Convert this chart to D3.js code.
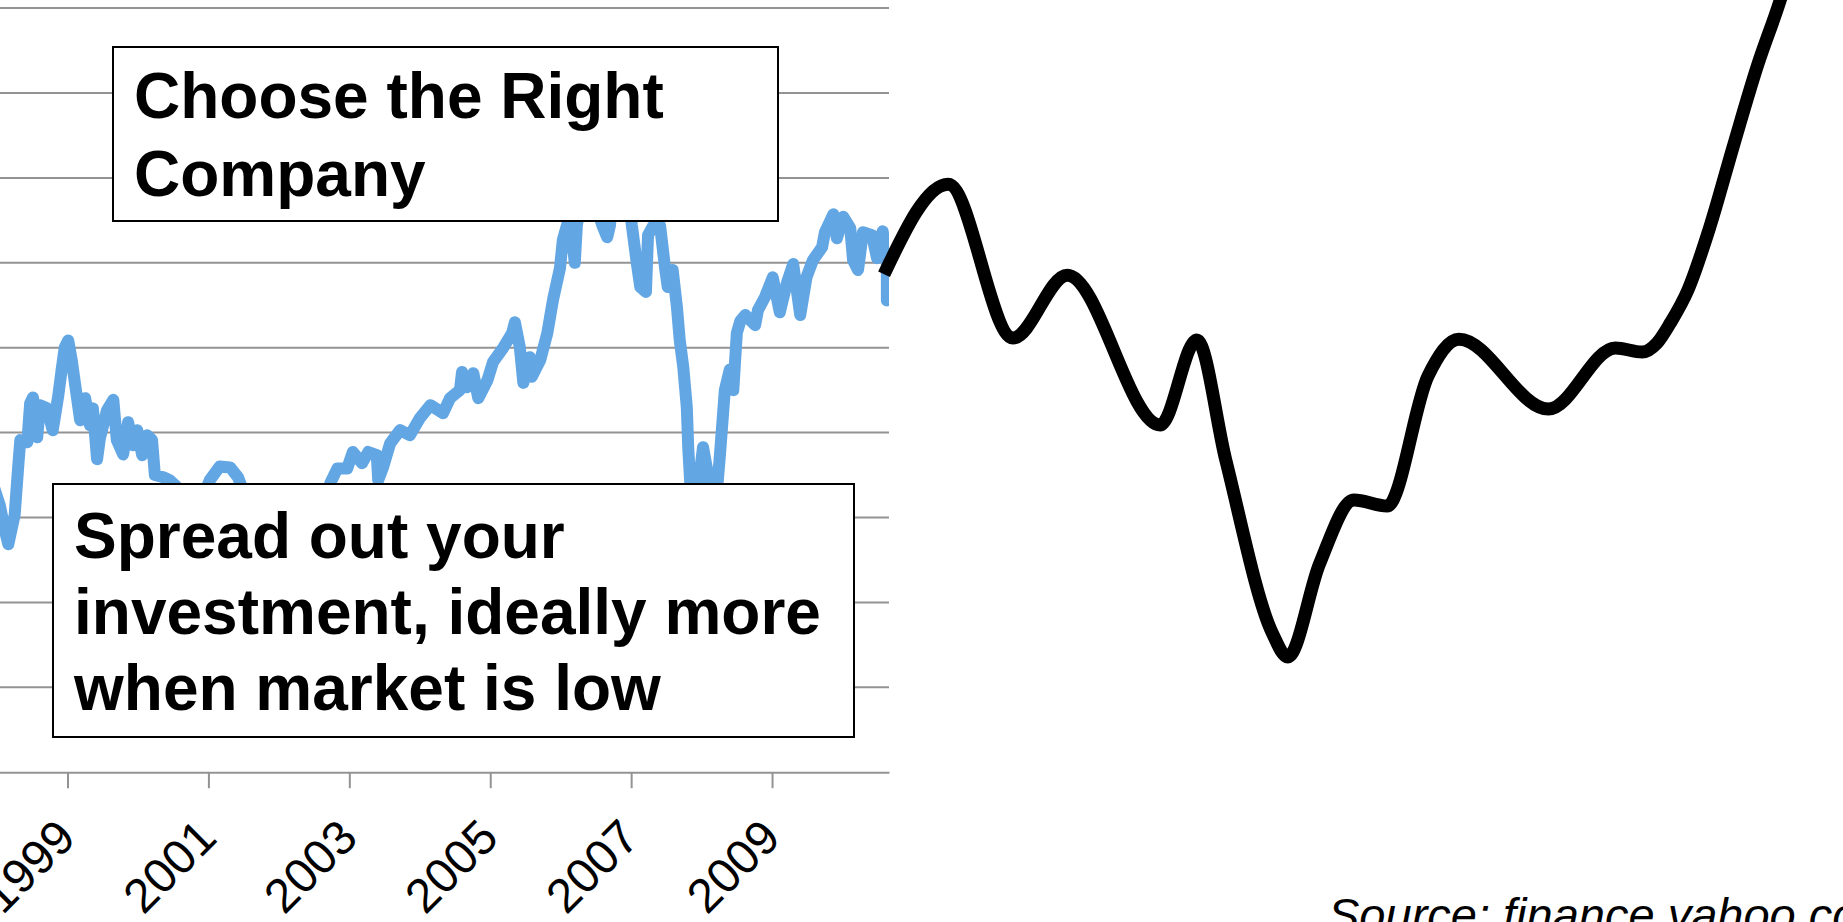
<!DOCTYPE html>
<html>
<head>
<meta charset="utf-8">
<script src="https://cdn.jsdelivr.net/npm/d3@7"></script>
<style>
  body { margin: 0; background: #fff; }
  svg { display: block; }
</style>
</head>
<body>
<script>
// price history, [decimal year, index value]
var priceSeries = [
  [1997.95, 11800], [1998.04, 11000], [1998.11, 9980], [1998.16, 9400], [1998.25, 10600],
  [1998.30, 12580], [1998.33, 13690], [1998.43, 13600], [1998.47, 15210], [1998.51, 15450],
  [1998.57, 13810], [1998.61, 15130], [1998.71, 15000], [1998.79, 14100], [1998.87, 15540],
  [1998.92, 16660], [1998.96, 17500], [1999.01, 17800], [1999.06, 16990], [1999.11, 15950],
  [1999.18, 14510], [1999.25, 15420], [1999.32, 14300], [1999.36, 15000], [1999.42, 12900],
  [1999.46, 13770], [1999.56, 14920], [1999.65, 15350], [1999.70, 13690], [1999.79, 13100],
  [1999.86, 14430], [1999.93, 13480], [1999.99, 14100], [2000.06, 13070], [2000.13, 13890],
  [2000.20, 13690], [2000.24, 12250], [2000.36, 12160], [2000.45, 12040], [2000.60, 11630],
  [2000.75, 10800], [2000.90, 11200], [2001.02, 12040], [2001.16, 12600], [2001.31, 12560],
  [2001.42, 12160], [2001.48, 11710], [2001.65, 10500], [2001.90, 9200], [2002.20, 9800],
  [2002.45, 9000], [2002.65, 10200], [2002.73, 11920], [2002.83, 12520], [2002.97, 12520],
  [2003.05, 13200], [2003.18, 12740], [2003.27, 13200], [2003.39, 13070], [2003.41, 12040],
  [2003.48, 12580], [2003.58, 13560], [2003.72, 14100], [2003.86, 13890], [2004.00, 14590],
  [2004.15, 15130], [2004.33, 14800], [2004.43, 15420], [2004.57, 15750], [2004.60, 16500],
  [2004.67, 15870], [2004.76, 16450], [2004.83, 15420], [2004.96, 16160], [2005.04, 16910],
  [2005.19, 17520], [2005.31, 18100], [2005.35, 18550], [2005.42, 17520], [2005.47, 16050],
  [2005.56, 17110], [2005.59, 16300], [2005.71, 16990], [2005.81, 18100], [2005.89, 19460],
  [2005.99, 20780], [2006.03, 21930], [2006.09, 22550], [2006.13, 22960], [2006.20, 21000],
  [2006.23, 22550], [2006.35, 24500], [2006.45, 23800], [2006.59, 22550], [2006.66, 22050],
  [2006.70, 22550], [2006.80, 26000], [2006.92, 25000], [2007.01, 22550], [2007.08, 20990],
  [2007.13, 20000], [2007.21, 19800], [2007.24, 22140], [2007.31, 22510], [2007.41, 22550],
  [2007.48, 20820], [2007.52, 20000], [2007.59, 20700], [2007.65, 19170], [2007.69, 17810],
  [2007.74, 16700], [2007.79, 15050], [2007.81, 13400], [2007.84, 11870], [2007.93, 11210],
  [2008.02, 13400], [2008.08, 12450], [2008.16, 11630], [2008.21, 11300], [2008.26, 13070],
  [2008.33, 15750], [2008.40, 16600], [2008.45, 15750], [2008.50, 18100], [2008.55, 18600],
  [2008.62, 18850], [2008.76, 18430], [2008.80, 19050], [2008.90, 19590], [2009.01, 20400],
  [2009.11, 18960], [2009.21, 20160], [2009.30, 20950], [2009.40, 18850], [2009.49, 20410],
  [2009.58, 21110], [2009.71, 21640], [2009.75, 22260], [2009.87, 23000], [2009.92, 22010],
  [2010.01, 22900], [2010.11, 22430], [2010.15, 21110], [2010.22, 20700], [2010.29, 22260],
  [2010.42, 22140], [2010.49, 21190], [2010.57, 22300], [2010.63, 21190], [2010.63, 19450]
];

// the drawn "what happens next" path
var projectionSeries = [
  [2010.59, 20530], [2011.50, 24240], [2012.42, 17900], [2013.19, 20490], [2014.51, 14310],
  [2015.03, 17820], [2015.44, 12870], [2016.10, 5740], [2016.32, 4750], [2016.77, 8580],
  [2017.26, 11220], [2017.73, 10970], [2018.31, 16330], [2018.75, 17850],
  [2020.02, 14970], [2020.97, 17490], [2021.35, 17320], [2021.56, 17690], [2021.75, 18520],
  [2022.00, 19880], [2022.31, 22470], [2022.64, 25770], [2022.98, 29070], [2023.31, 31830],
  [2023.45, 33150]
];

var yearTicks = [1999, 2001, 2003, 2005, 2007, 2009];
var gridValues = [0, 3500, 7000, 10500, 14000, 17500, 21000, 24500, 28000, 31500];

var boxTop = ["Choose the Right", "Company"];
var boxBottom = ["Spread out your", "investment, ideally more", "when market is low"];
var sourceText = "Source: finance.yahoo.com";

var width = 1843, height = 922;
var plotRight = 889, axisY = 772.2;

var x = d3.scaleLinear().domain([1997.9, 2010.66]).range([-10, plotRight]);
var y = d3.scaleLinear().domain([0, 31500]).range([axisY, 8.1]);

var svg = d3.select("body").append("svg")
    .attr("width", width)
    .attr("height", height);

svg.append("rect").attr("width", width).attr("height", height).attr("fill", "#fff");

// gridlines
svg.append("g").selectAll("line")
  .data(gridValues.slice(1))
  .enter().append("line")
    .attr("x1", -10).attr("x2", plotRight)
    .attr("y1", function(d) { return y(d); })
    .attr("y2", function(d) { return y(d); })
    .attr("stroke", "#939393")
    .attr("stroke-width", 2);

// x axis
var xAxis = svg.append("g")
    .attr("transform", "translate(0," + axisY + ")")
    .call(d3.axisBottom(x).tickValues(yearTicks).tickSize(16).tickSizeOuter(0).tickFormat(d3.format("d")));
xAxis.select(".domain").attr("stroke", "#939393").attr("stroke-width", 2);
xAxis.selectAll(".tick line").attr("stroke", "#939393").attr("stroke-width", 2);
xAxis.selectAll(".tick text")
    .attr("font-family", "'Liberation Sans', Arial, sans-serif")
    .attr("font-size", 48)
    .attr("fill", "#000")
    .attr("text-anchor", "end")
    .attr("dy", null)
    .attr("y", 0)
    .attr("transform", "translate(10,68) rotate(-45)");

svg.append("clipPath").attr("id", "plotclip")
  .append("rect").attr("x", -20).attr("y", 0).attr("width", plotRight + 20).attr("height", axisY);

var priceLine = d3.line()
    .x(function(d) { return x(d[0]); })
    .y(function(d) { return y(d[1]); });

svg.append("path")
    .datum(priceSeries)
    .attr("clip-path", "url(#plotclip)")
    .attr("d", priceLine)
    .attr("fill", "none")
    .attr("stroke", "#62a6e4")
    .attr("stroke-width", 12)
    .attr("stroke-linejoin", "round")
    .attr("stroke-linecap", "round");

var projLine = d3.line()
    .curve(d3.curveMonotoneX)
    .x(function(d) { return x(d[0]); })
    .y(function(d) { return y(d[1]); });

svg.append("path")
    .datum(projectionSeries)
    .attr("d", projLine)
    .attr("fill", "none")
    .attr("stroke", "#000")
    .attr("stroke-width", 13)
    .attr("stroke-linejoin", "round");

// text boxes
function textBox(lines, bx, by, bw, bh, tx, ty, lh) {
  var g = svg.append("g");
  g.append("rect")
    .attr("x", bx).attr("y", by).attr("width", bw).attr("height", bh)
    .attr("fill", "#fff").attr("stroke", "#000").attr("stroke-width", 2);
  g.selectAll("text")
    .data(lines)
    .enter().append("text")
      .attr("x", tx)
      .attr("y", function(d, i) { return ty + i * lh; })
      .attr("font-family", "'Liberation Sans', Arial, sans-serif")
      .attr("font-weight", "bold")
      .attr("font-size", 64)
      .attr("fill", "#000")
      .text(function(d) { return d; });
}
textBox(boxTop, 113, 47, 665, 174, 134, 118, 78);
textBox(boxBottom, 53, 484, 801, 253, 74, 558, 76);

svg.append("text")
    .attr("x", 1328).attr("y", 931)
    .attr("font-family", "'Liberation Sans', Arial, sans-serif")
    .attr("font-style", "italic")
    .attr("font-size", 47)
    .attr("fill", "#000")
    .text(sourceText);
</script>
</body>
</html>
